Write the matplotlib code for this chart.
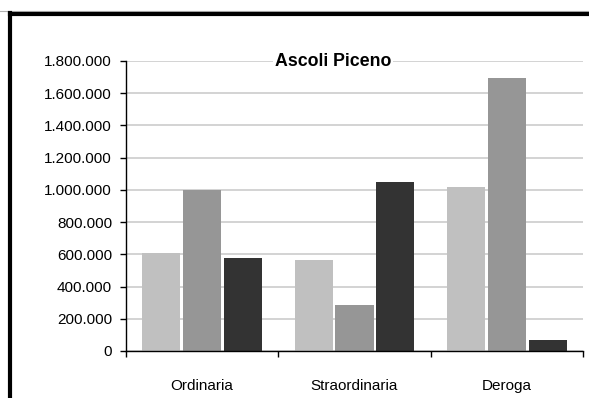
import matplotlib
matplotlib.use("Agg")
import matplotlib.pyplot as plt
from matplotlib.lines import Line2D
from matplotlib.ticker import FuncFormatter, FixedLocator
import numpy as np

plt.rcParams["font.family"] = ["Liberation Sans", "DejaVu Sans"]

categories = ["Ordinaria", "Straordinaria", "Deroga"]
serie_1 = [607000, 563000, 1015000]
serie_2 = [1000000, 285000, 1697000]
serie_3 = [576000, 1047000, 68000]
colors = ["#c0c0c0", "#969696", "#333333"]

W, H = 589, 398
fig = plt.figure(figsize=(W / 100, H / 100), dpi=100)
ax = fig.add_axes([126 / W, 1 - 351 / H, (583 - 126) / W, (351 - 61) / H])

x = np.arange(len(categories))
bw, step = 0.25, 0.268
for i, (vals, c) in enumerate(zip([serie_1, serie_2, serie_3], colors)):
    ax.bar(x + (i - 1) * step, vals, bw, color=c, zorder=2)

ax.set_xlim(-0.5, 2.5)
ax.set_ylim(0, 1800000)
ax.set_yticks(np.arange(0, 1800001, 200000))
ax.yaxis.set_major_formatter(FuncFormatter(lambda v, p: f"{int(v):,}".replace(",", ".")))
ax.grid(axis="y", color="#cccccc", lw=1.2, zorder=0)
ax.set_axisbelow(True)

ax.set_xticks(x)
ax.set_xticklabels(categories)
ax.xaxis.set_minor_locator(FixedLocator([-0.5, 0.5, 1.5, 2.5]))
ax.tick_params(axis="x", which="major", length=0, pad=20, labelsize=11)
ax.tick_params(axis="x", which="minor", length=4, width=1)
ax.tick_params(axis="y", length=4, width=1, pad=6, labelsize=11)

for s in ["top", "right"]:
    ax.spines[s].set_visible(False)
for s in ["left", "bottom"]:
    ax.spines[s].set_linewidth(1)

fig.text(333 / W, 1 - 62 / H, "Ascoli Piceno", ha="center", va="center",
         fontsize=12.8, fontweight="bold", zorder=5,
         bbox=dict(facecolor="white", edgecolor="none", pad=1))

# outer frame (only the left and top edges are visible)
fig.add_artist(Line2D([0, 1], [1 - 11 / H, 1 - 11 / H], color="#b0b0b0", lw=0.8))
fig.add_artist(Line2D([9.5 / W, 1], [1 - 14 / H, 1 - 14 / H], color="black", lw=3))
fig.add_artist(Line2D([9.5 / W, 9.5 / W], [0, 1 - 12.5 / H], color="black", lw=3))

fig.savefig("out.png", dpi=100)
